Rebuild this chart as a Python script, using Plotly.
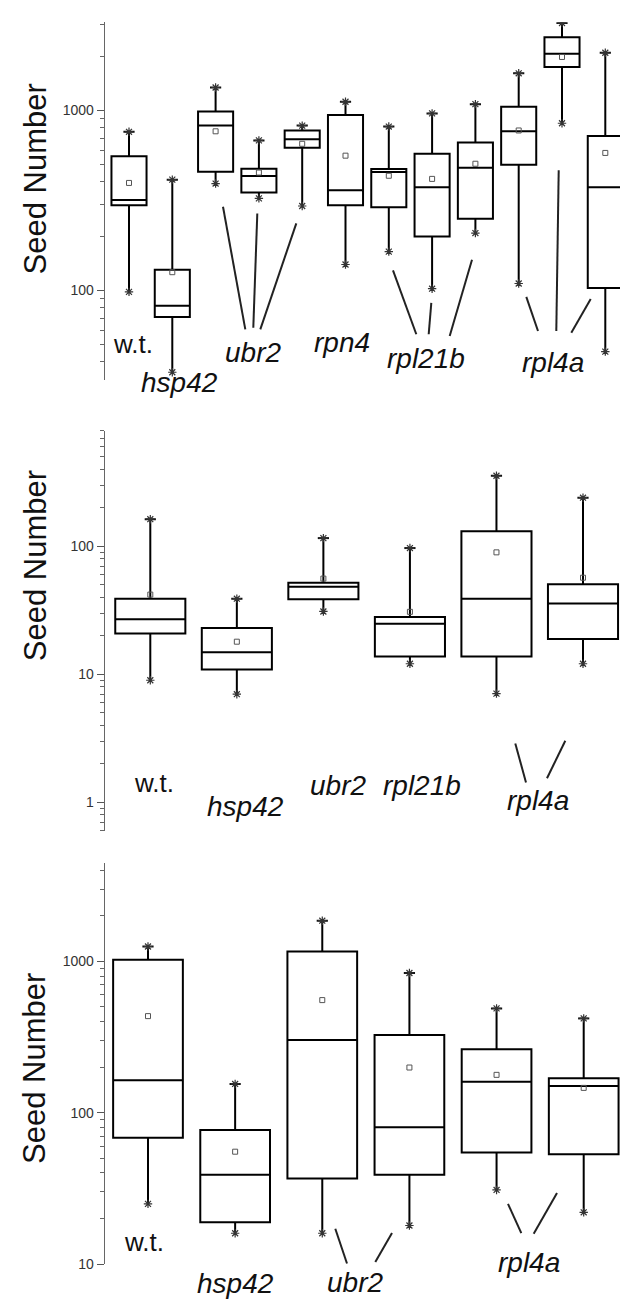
import plotly.graph_objects as go
import math

# ---------------- DATA ----------------
# Top panel
TOP_CATS = ["w.t.", "hsp42", "ubr2", "ubr2", "ubr2", "rpn4",
            "rpl21b", "rpl21b", "rpl21b", "rpl4a", "rpl4a", "rpl4a"]
TOP_LO   = [98, 35, 392, 324, 294, 139, 164, 102, 208, 109, 848, 45.6]
TOP_Q1   = [297, 71, 456, 349, 620, 297, 289, 199, 250, 499, 1743, 103]
TOP_MED  = [317, 82, 823, 431, 692, 360, 454, 374, 480, 765, 2065, 374]
TOP_Q3   = [555, 130, 987, 474, 772, 942, 472, 574, 663, 1048, 2552, 721]
TOP_HI   = [760, 412, 1340, 681, 823, 1117, 813, 962, 1083, 1607, 3060, 2091]
TOP_MEAN = [395, 126, 765, 451, 652, 560, 433, 416, 505, 773, 1981, 580]

# Middle panel
MID_CATS = ["w.t.", "hsp42", "ubr2", "rpl21b", "rpl4a", "rpl4a"]
MID_LO   = [9.0, 7.0, 31, 12.1, 7.07, 12.1]
MID_Q1   = [20.9, 10.9, 38.6, 13.8, 13.8, 18.9]
MID_MED  = [26.9, 14.9, 48.4, 24.9, 39, 35.7]
MID_Q3   = [39, 23, 52, 28.1, 131, 50.5]
MID_HI   = [163, 39, 116, 97, 356, 240]
MID_MEAN = [42, 18, 56, 30.8, 89.8, 56.9]

# Bottom panel
BOT_CATS = ["w.t.", "hsp42", "ubr2", "ubr2", "rpl4a", "rpl4a"]
BOT_LO   = [25, 16, 16, 18, 30.9, 22]
BOT_Q1   = [68.4, 18.9, 36.8, 38.9, 54.6, 53.2]
BOT_MED  = [164, 38.9, 303, 80.3, 160, 150]
BOT_Q3   = [1025, 76.9, 1163, 326, 263, 169]
BOT_HI   = [1254, 155, 1857, 838, 489, 420]
BOT_MEAN = [435, 55.3, 555, 199, 178, 146]

Y_TITLE = "Seed Number"

# ---------------- LAYOUT GEOMETRY ----------------
W, H = 628, 1300
AX_X = 96.7  # pixel x of y-axis line

def ydom(top_px, bot_px):
    return [1 - bot_px / H, 1 - top_px / H]

def px_x(p):
    return p / W

def px_y(p):
    return 1 - p / H

panels = [
    dict(ref=3, refpx=103.0, dec=181.0, rlo=1.5, rhi=3.49, c0=77.7, step=43.3,
         cats=TOP_CATS, lo=TOP_LO, q1=TOP_Q1, med=TOP_MED, q3=TOP_Q3, hi=TOP_HI, mean=TOP_MEAN,
         major=[100, 1000], minor_dec=[10, 100, 1000], bw=0.81),
    dict(ref=2, refpx=541.7, dec=128.8, rlo=math.log10(0.6), rhi=math.log10(800), c0=55.76, step=86.54,
         cats=MID_CATS, lo=MID_LO, q1=MID_Q1, med=MID_MED, q3=MID_Q3, hi=MID_HI, mean=MID_MEAN,
         major=[1, 10, 100], minor_dec=[0.1, 1, 10, 100], bw=0.81),
    dict(ref=3, refpx=959.3, dec=152.3, rlo=1.0, rhi=3.65, c0=52.86, step=87.14,
         cats=BOT_CATS, lo=BOT_LO, q1=BOT_Q1, med=BOT_MED, q3=BOT_Q3, hi=BOT_HI, mean=BOT_MEAN,
         major=[10, 100, 1000], minor_dec=[10, 100, 1000], bw=0.80),
]

fig = go.Figure()
layout = dict(
    width=W, height=H,
    margin=dict(l=0, r=0, t=0, b=0),
    paper_bgcolor="white", plot_bgcolor="white",
    showlegend=False,
    font=dict(family="Liberation Sans, Arial, sans-serif", color="#111"),
)

for i, p in enumerate(panels):
    n = len(p["cats"])
    xs = list(range(1, n + 1))
    sfx = "" if i == 0 else str(i + 1)
    xa, ya = "x" + sfx, "y" + sfx
    top_px = p["refpx"] - (p["rhi"] - p["ref"]) * p["dec"]
    bot_px = p["refpx"] + (p["ref"] - p["rlo"]) * p["dec"]
    xr = [(AX_X - p["c0"]) / p["step"], (W - p["c0"]) / p["step"]]

    fig.add_trace(go.Box(
        x=xs, q1=p["q1"], median=p["med"], q3=p["q3"],
        lowerfence=p["lo"], upperfence=p["hi"],
        width=p["bw"], whiskerwidth=0, boxpoints=False,
        line=dict(color="black", width=2), fillcolor="white",
        xaxis=xa, yaxis=ya, hoverinfo="skip", name="box" + sfx,
    ))
    # max caps (bar) at whisker tops
    fig.add_trace(go.Scatter(
        x=xs, y=p["hi"], mode="markers",
        marker=dict(symbol="line-ew-open", size=8, color="#111",
                    line=dict(color="#111", width=2)),
        xaxis=xa, yaxis=ya, hoverinfo="skip",
    ))
    # whisker end markers
    fig.add_trace(go.Scatter(
        x=xs + xs, y=p["lo"] + p["hi"], mode="markers",
        marker=dict(symbol="asterisk-open", size=7, color="#333",
                    line=dict(color="#333", width=1.2)),
        xaxis=xa, yaxis=ya, hoverinfo="skip",
    ))
    # mean markers
    fig.add_trace(go.Scatter(
        x=xs, y=p["mean"], mode="markers",
        marker=dict(symbol="square-open", size=5, color="#555",
                    line=dict(color="#555", width=1)),
        xaxis=xa, yaxis=ya, hoverinfo="skip",
    ))

    minor_vals = [d * k for d in p["minor_dec"] for k in range(2, 10)]
    minor_vals = [v for v in minor_vals if p["rlo"] - 1e-9 <= math.log10(v) <= p["rhi"] + 1e-9]

    layout["xaxis" + sfx] = dict(
        domain=[AX_X / W, 1], range=xr, visible=False, anchor=ya,
        showgrid=False, zeroline=False,
    )
    layout["yaxis" + sfx] = dict(
        domain=ydom(top_px, bot_px), type="log", range=[p["rlo"], p["rhi"]],
        anchor=xa, showline=True, linecolor="#666", linewidth=1,
        ticks="outside", ticklen=7, tickwidth=1, tickcolor="#555",
        tickmode="array", tickvals=p["major"], ticktext=[str(v) for v in p["major"]],
        tickfont=dict(size=14, color="#333"),
        minor=dict(tickmode="array", tickvals=minor_vals, ticks="outside",
                   ticklen=4, tickwidth=1, tickcolor="#666"),
        showgrid=False, zeroline=False,
    )

fig.update_layout(**layout)

# ---------------- TEXT LABELS ----------------
labels = [
    ("w.t.", 125, 338, False), ("hsp42", 171, 377, True), ("ubr2", 245, 347, True),
    ("rpn4", 334, 337, True), ("rpl21b", 418, 353, True), ("rpl4a", 545, 357, True),
    ("w.t.", 146, 780, False), ("hsp42", 237, 803, True), ("ubr2", 330, 782, True),
    ("rpl21b", 414, 782, True), ("rpl4a", 530, 797, True),
    ("w.t.", 136, 1242, False), ("hsp42", 228, 1283, True), ("ubr2", 347, 1282, True),
    ("rpl4a", 521, 1262, True),
]
for text, xp, yp, it in labels:
    fig.add_annotation(
        text=text, x=px_x(xp), y=px_y(yp), xref="paper", yref="paper",
        showarrow=False, xanchor="center", yanchor="middle",
        font=dict(size=28 if it else 26, style="italic" if it else "normal", color="#111"),
    )

for yc in [172.5, 561.7, 1067.5]:
    fig.add_annotation(
        text=Y_TITLE, x=px_x(27), y=px_y(yc), xref="paper", yref="paper",
        showarrow=False, textangle=-90, xanchor="center", yanchor="middle",
        font=dict(size=31, color="#111"),
    )

connectors = [
    (215, 200, 237.3, 323.3), (249.3, 206.7, 245.3, 321.7), (288.3, 216.7, 252.3, 323.3),
    (385, 264, 408.3, 328.3), (423.3, 296.7, 420.7, 328.3), (464, 253.3, 441.7, 330),
    (518.3, 290.7, 530, 325), (550.7, 163.3, 548.3, 325), (582.7, 292.7, 563.3, 326.7),
    (507.3, 740, 518, 779.3), (557.3, 737.3, 539, 775),
    (327.3, 1228.3, 339, 1263.3), (384, 1232.7, 367.3, 1261.7),
    (500, 1203.3, 513.3, 1232.7), (549, 1192.3, 525.7, 1233.3),
]
for x0, y0, x1, y1 in connectors:
    fig.add_shape(type="line", xref="paper", yref="paper",
                  x0=px_x(x0), y0=px_y(y0), x1=px_x(x1), y1=px_y(y1),
                  line=dict(color="#222", width=2))

fig.write_html("out.html")
